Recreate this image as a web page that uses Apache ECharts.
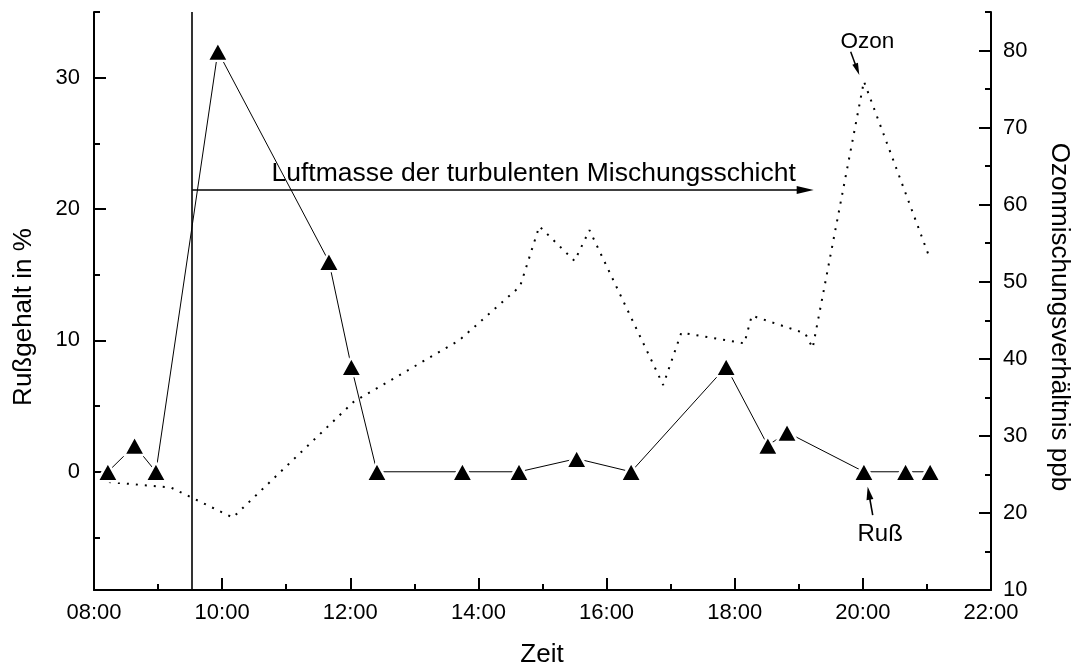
<!DOCTYPE html>
<html>
<head>
<meta charset="utf-8">
<script src="https://cdn.jsdelivr.net/npm/echarts@6/dist/echarts.min.js"></script>
<style>
  html, body { margin: 0; padding: 0; background: #fff; }
  #chart { width: 1074px; height: 667px; }
</style>
</head>
<body>
<div id="chart"></div>
<script>
// Ruß (soot content, %) samples by clock time
const russTimes  = ['08:13','08:38','08:58','09:56','11:40','12:01','12:25','13:45','14:38','15:32','16:23','17:52','18:31','18:49','20:01','20:40','21:03'];
const russValues = [0, 2, 0, 32, 16, 8, 0, 0, 0, 1, 0, 8, 2, 3, 0, 0, 0];

// Ozone mixing ratio (ppb), turning points of the trace
const ozoneTimes  = ['08:14','09:12','10:10','12:03','13:42','14:39','14:57','15:30','15:44','16:53','17:10','18:09','18:16','19:06','19:13','20:01','21:02'];
const ozoneValues = [24.0, 23.3, 19.4, 34.4, 42.4, 49.4, 57.2, 52.7, 56.7, 36.6, 43.4, 42.0, 45.6, 43.3, 41.4, 76.0, 53.3];

// Axis ticks
const timeMajorTicks = [8, 10, 12, 14, 16, 18, 20, 22];
const timeMinorTicks = [9, 11, 13, 15, 17, 19, 21];
const russMajorTicks = [0, 10, 20, 30];
const russMinorTicks = [-5, 5, 15, 25, 35];
const ozoneMajorTicks = [10, 20, 30, 40, 50, 60, 70, 80];
const ozoneMinorTicks = [15, 25, 35, 45, 55, 65, 75, 85];

// Start of the mixed-layer air mass and the end of its arrow
const mixStart = '09:32';
const mixEnd = '19:06';
const mixLevel = 21.45;

const FONT = '"Liberation Sans", Arial, Helvetica, sans-serif';

function toHours(t) {
  const [h, m] = t.split(':').map(Number);
  return h + m / 60;
}
function hourLabel(v) {
  return String(Math.round(v)).padStart(2, '0') + ':00';
}

const chart = echarts.init(document.getElementById('chart'), null, { renderer: 'canvas' });

const tickLine = { color: '#000', width: 2 };
const labelStyle = { color: '#000', fontSize: 22, fontFamily: FONT };

function valueAxis(opts) {
  return Object.assign({
    type: 'value',
    splitLine: { show: false },
    axisLine: { show: true, onZero: false, lineStyle: { color: '#000', width: 2 } }
  }, opts);
}

chart.setOption({
  animation: false,
  backgroundColor: '#fff',
  grid: { left: 94, right: 83, top: 12, bottom: 77, containLabel: false },
  xAxis: [
    valueAxis({
      min: 8, max: 22, position: 'bottom',
      axisTick: { inside: true, length: 12, lineStyle: tickLine, customValues: timeMajorTicks },
      axisLabel: Object.assign({ margin: 12, customValues: timeMajorTicks, formatter: hourLabel }, labelStyle)
    }),
    valueAxis({
      min: 8, max: 22, position: 'bottom',
      axisLine: { show: false, onZero: false },
      axisTick: { inside: true, length: 6, lineStyle: tickLine, customValues: timeMinorTicks },
      axisLabel: { show: false }
    })
  ],
  yAxis: [
    valueAxis({
      min: -9, max: 35, position: 'left',
      axisTick: { inside: true, length: 12, lineStyle: tickLine, customValues: russMajorTicks },
      axisLabel: Object.assign({ margin: 14, customValues: russMajorTicks }, labelStyle)
    }),
    valueAxis({
      min: 10, max: 85, position: 'right',
      axisTick: { inside: true, length: 12, lineStyle: tickLine, customValues: ozoneMajorTicks },
      axisLabel: Object.assign({ margin: 12, customValues: ozoneMajorTicks }, labelStyle)
    }),
    valueAxis({
      min: -9, max: 35, position: 'left',
      axisLine: { show: false, onZero: false },
      axisTick: { inside: true, length: 6, lineStyle: tickLine, customValues: russMinorTicks },
      axisLabel: { show: false }
    }),
    valueAxis({
      min: 10, max: 85, position: 'right',
      axisLine: { show: false, onZero: false },
      axisTick: { inside: true, length: 6, lineStyle: tickLine, customValues: ozoneMinorTicks },
      axisLabel: { show: false }
    })
  ],
  series: [
    {
      name: 'Ozon',
      type: 'line',
      xAxisIndex: 0,
      yAxisIndex: 1,
      data: ozoneTimes.map((t, i) => [toHours(t), ozoneValues[i]]),
      symbol: 'none',
      lineStyle: { color: '#000', width: 2, type: [2, 7] },
      silent: true,
      z: 2,
      markLine: {
        silent: true,
        animation: false,
        label: { show: false },
        emphasis: { disabled: true },
        lineStyle: { color: '#000', width: 1.5, type: 'solid' },
        data: [
          [
            { coord: [19.81, 79.85], symbol: 'none' },
            { coord: [19.912, 77.55], symbol: 'triangle', symbolSize: [6, 12] }
          ]
        ]
      }
    },
    {
      name: 'Ruß',
      type: 'line',
      xAxisIndex: 0,
      yAxisIndex: 0,
      data: russTimes.map((t, i) => [toHours(t), russValues[i]]),
      symbol: 'triangle',
      symbolSize: [21, 19],
      itemStyle: { color: '#000', borderColor: '#fff', borderWidth: 2.5 },
      lineStyle: { color: '#000', width: 1 },
      silent: true,
      z: 3,
      markLine: {
        silent: true,
        animation: false,
        label: { show: false },
        emphasis: { disabled: true },
        symbol: 'none',
        lineStyle: { color: '#000', width: 1.6, type: 'solid' },
        data: [
          { xAxis: toHours(mixStart) },
          [
            { coord: [toHours(mixStart), mixLevel], symbol: 'none' },
            { coord: [toHours(mixEnd), mixLevel], symbol: 'triangle', symbolSize: [8, 17] }
          ],
          [
            { coord: [20.154, -3.30], symbol: 'none' },
            { coord: [20.093, -1.63], symbol: 'triangle', symbolSize: [7, 13] }
          ]
        ]
      }
    }
  ]
});

// Text annotations placed from data coordinates
const toPx = (axis, pt) => chart.convertToPixel({ xAxisIndex: 0, yAxisIndex: axis }, pt);
const mixPx = toPx(0, [10.77, mixLevel]);
const ozonPx = toPx(1, [20.07, 81.1]);
const russPx = toPx(0, [20.27, -4.8]);

function text(x, y, str, size, extra) {
  return Object.assign({
    type: 'text', x: x, y: y, silent: true,
    style: { text: str, fill: '#000', font: size + 'px ' + FONT, textAlign: 'center', textVerticalAlign: 'middle' }
  }, extra || {});
}

chart.setOption({
  graphic: [
    text(24, 317, 'Rußgehalt in %', 26, { rotation: Math.PI / 2 }),
    text(1059, 317, 'Ozonmischungsverhältnis ppb', 26, { rotation: -Math.PI / 2 }),
    text(542, 655, 'Zeit', 26),
    {
      type: 'text', x: mixPx[0], y: mixPx[1] - 3, silent: true,
      style: { text: 'Luftmasse der turbulenten Mischungsschicht', fill: '#000', font: '26.5px ' + FONT, textAlign: 'left', textVerticalAlign: 'bottom' }
    },
    text(ozonPx[0], ozonPx[1], 'Ozon', 22.5),
    text(russPx[0], russPx[1], 'Ruß', 24)
  ]
});
</script>
</body>
</html>
